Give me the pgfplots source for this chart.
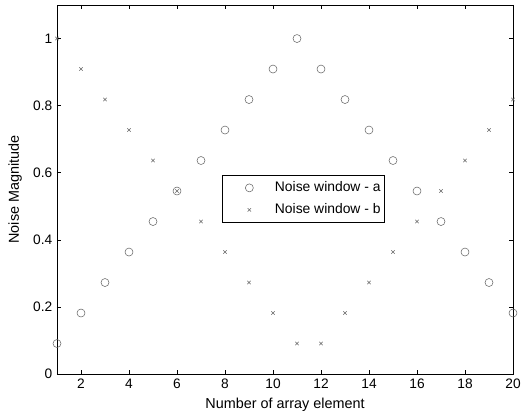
\documentclass[border=0pt]{standalone}
\usepackage{fontspec}
\setmainfont{Liberation Sans}
\usepackage{pgfplots}
\pgfplotsset{compat=1.18}
\begin{document}
\begin{tikzpicture}
\begin{axis}[
  scale only axis,
  width=342pt, height=276.75pt,
  xmin=1, xmax=20, ymin=0, ymax=1.1,
  xtick={2,4,...,20}, ytick={0,0.2,0.4,0.6,0.8,1},
  yticklabels={0,0.2,0.4,0.6,0.8,1},
  tick align=inside, major tick length=3pt,
  tick style={black, thin},
  axis line style={black, thin},
  /pgf/number format/assume math mode=true,
  tick label style={font=\fontsize{10.3}{12}\selectfont},
  label style={font=\fontsize{10.8}{12}\selectfont},
  xlabel={Number of array element},
  ylabel={Noise Magnitude},
  xlabel style={at={(axis description cs:0.5,-0.083)}, anchor=center},
  ylabel style={at={(axis description cs:-0.092,0.5)}, anchor=center},
  legend style={at={(axis cs:11.27,0.522)}, anchor=center, draw=black, thin,
    font=\fontsize{10.4}{12}\selectfont, row sep=3.5pt, inner xsep=1pt, inner ysep=3pt,
    legend image code/.code={\path (0pt,0pt) (36pt,0pt); \draw[#1] plot coordinates {(19pt,0pt)};}},
  legend cell align=left,
]
\coordinate (bl) at (rel axis cs:0,0);
\coordinate (tr) at (rel axis cs:1,1);
\addplot[only marks, mark=o, mark size=3pt, gray!80!black, mark options={line width=0.4pt}] coordinates {
(1,0.0909)(2,0.1818)(3,0.2727)(4,0.3636)(5,0.4545)(6,0.5455)(7,0.6364)(8,0.7273)(9,0.8182)(10,0.9091)
(11,1.0)(12,0.9091)(13,0.8182)(14,0.7273)(15,0.6364)(16,0.5455)(17,0.4545)(18,0.3636)(19,0.2727)(20,0.1818)};
\addlegendentry{Noise window - a}
\addplot[only marks, mark=x, mark size=1.8pt, gray!80!black, mark options={line width=0.4pt}] coordinates {
(1,1.0)(2,0.9091)(3,0.8182)(4,0.7273)(5,0.6364)(6,0.5455)(7,0.4545)(8,0.3636)(9,0.2727)(10,0.1818)
(11,0.0909)(12,0.0909)(13,0.1818)(14,0.2727)(15,0.3636)(16,0.4545)(17,0.5455)(18,0.6364)(19,0.7273)(20,0.8182)};
\addlegendentry{Noise window - b}
\end{axis}
\pgfresetboundingbox
\path ([shift={(-42.75pt,-30pt)}]bl) rectangle ([shift={(13.5pt,3.75pt)}]tr);
\end{tikzpicture}
\end{document}
